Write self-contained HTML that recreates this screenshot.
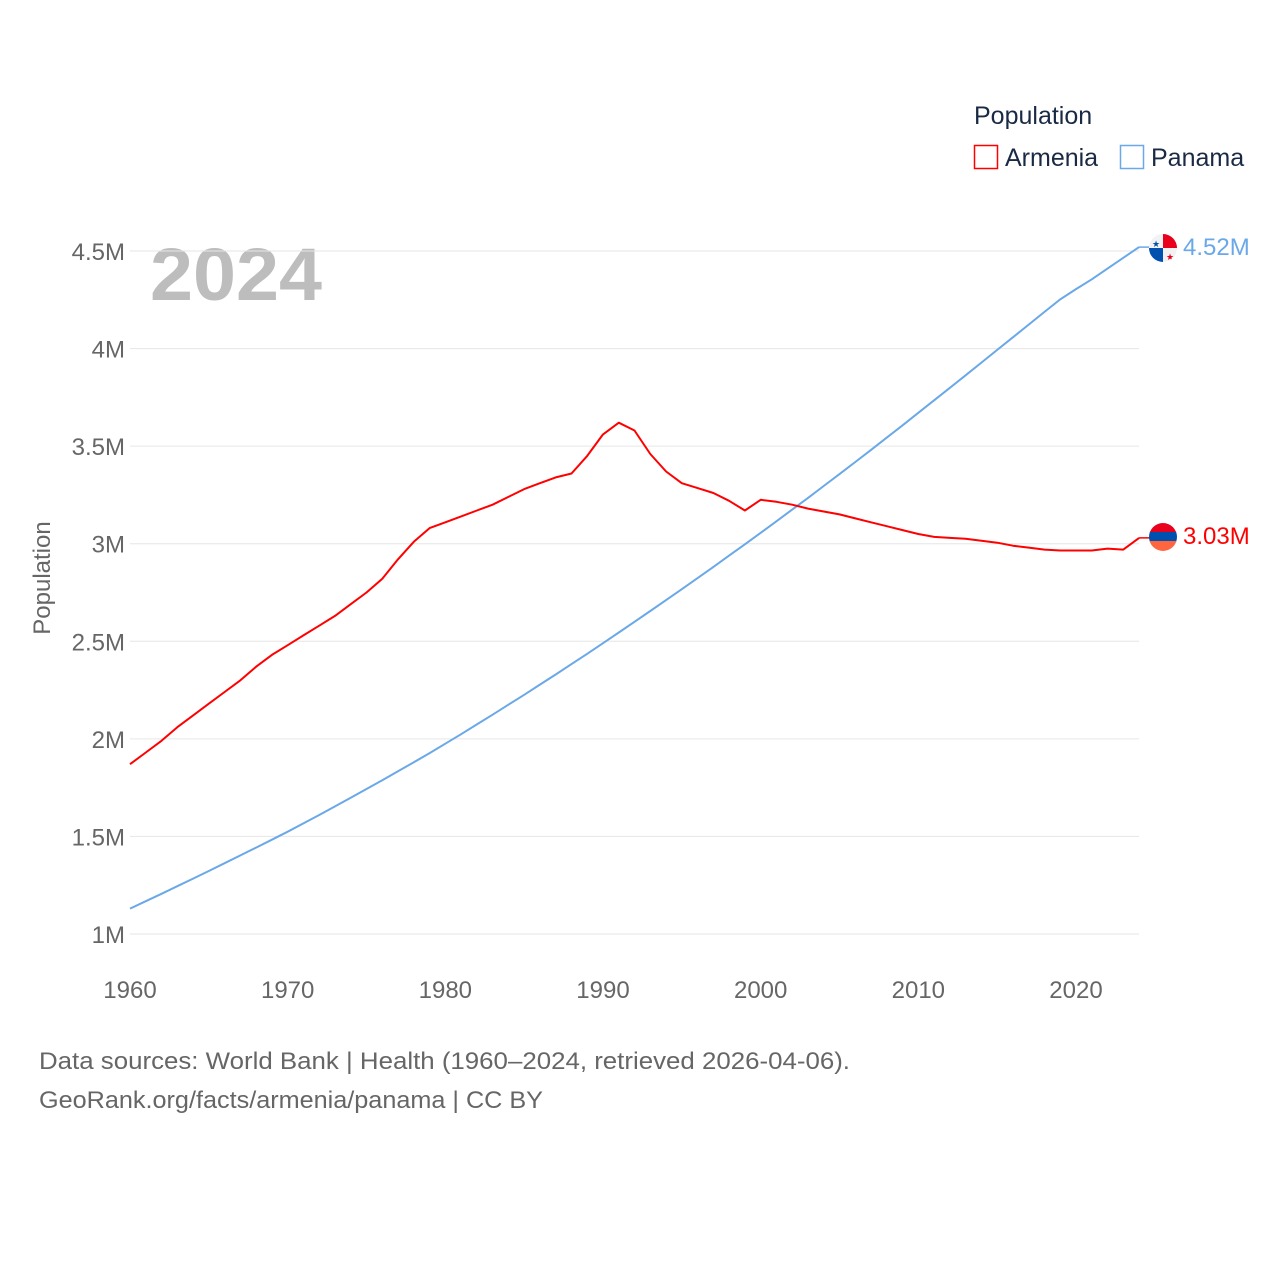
<!DOCTYPE html>
<html><head><meta charset="utf-8"><style>
body{margin:0;background:#fff;font-family:"Liberation Sans",sans-serif;}
svg text{font-family:"Liberation Sans",sans-serif;}
</style></head><body>
<svg id="chart" width="1280" height="1280" xmlns="http://www.w3.org/2000/svg">
<text x="974" y="124" font-size="25" fill="#1a2a44">Population</text>
<g><rect x="974.5" y="145.5" width="23" height="23" fill="none" stroke="#f00" stroke-width="1.5"/><text x="1005" y="166" font-size="25" fill="#1a2a44">Armenia</text></g>
<g><rect x="1120.5" y="145.5" width="23" height="23" fill="none" stroke="#6aa8e8" stroke-width="1.5"/><text x="1151" y="166" font-size="25" fill="#1a2a44">Panama</text></g>
<text x="150" y="300" font-size="74" font-weight="bold" fill="#bdbdbd" textLength="172" lengthAdjust="spacingAndGlyphs">2024</text>
<text transform="translate(50,578) rotate(-90)" text-anchor="middle" font-size="24" fill="#666">Population</text>
<g id="grid"></g><g id="lines"></g>
<text x="39" y="1069" font-size="24" fill="#666" textLength="811" lengthAdjust="spacingAndGlyphs">Data sources: World Bank | Health (1960–2024, retrieved 2026-04-06).</text>
<text x="39" y="1108" font-size="24" fill="#666" textLength="504" lengthAdjust="spacingAndGlyphs">GeoRank.org/facts/armenia/panama | CC BY</text>
<defs><clipPath id="c1"><circle cx="1163" cy="248" r="14"/></clipPath><clipPath id="c2"><circle cx="1163" cy="537" r="14"/></clipPath></defs>
<g clip-path="url(#c1)"><rect x="1149" y="234" width="28" height="28" fill="#f2f2f2"/><rect x="1163" y="234" width="14" height="14" fill="#e8001c"/><rect x="1149" y="248" width="14" height="14" fill="#0050b0"/><text x="1156" y="247" font-size="9" fill="#0050b0" text-anchor="middle">★</text><text x="1170" y="260" font-size="9" fill="#e8001c" text-anchor="middle">★</text></g>
<g clip-path="url(#c2)"><rect x="1149" y="523" width="28" height="10" fill="#e8001c"/><rect x="1149" y="532" width="28" height="10" fill="#0050b0"/><rect x="1149" y="541" width="28" height="10" fill="#ff6640"/></g>
<text x="1183" y="255" font-size="24" fill="#6aa8e8">4.52M</text>
<text x="1183" y="544" font-size="24" fill="#f00">3.03M</text>
</svg>
<script>
const years=[];for(let y=1960;y<=2024;y++)years.push(y);
const armenia=[1.87,1.93,1.99,2.06,2.12,2.18,2.24,2.30,2.37,2.43,2.48,2.53,2.58,2.63,2.69,2.75,2.82,2.92,3.01,3.08,3.11,3.14,3.17,3.20,3.24,3.28,3.31,3.34,3.36,3.45,3.56,3.62,3.58,3.46,3.37,3.31,3.285,3.26,3.22,3.17,3.225,3.215,3.20,3.18,3.165,3.15,3.13,3.11,3.09,3.07,3.05,3.035,3.03,3.025,3.015,3.005,2.99,2.98,2.97,2.965,2.965,2.965,2.975,2.97,3.03];
const panama=[1.130,1.168,1.206,1.245,1.284,1.323,1.363,1.403,1.443,1.483,1.524,1.567,1.610,1.654,1.698,1.743,1.788,1.834,1.880,1.927,1.975,2.024,2.074,2.124,2.175,2.226,2.278,2.330,2.383,2.436,2.490,2.545,2.600,2.655,2.711,2.767,2.824,2.881,2.939,2.997,3.056,3.115,3.175,3.235,3.296,3.357,3.419,3.481,3.544,3.607,3.671,3.735,3.799,3.863,3.928,3.993,4.058,4.123,4.188,4.252,4.305,4.355,4.410,4.465,4.520];
const yTicks=[1,1.5,2,2.5,3,3.5,4,4.5];
const yTickLabels=["1M","1.5M","2M","2.5M","3M","3.5M","4M","4.5M"];
const xTicks=[1960,1970,1980,1990,2000,2010,2020];
const NS="http://www.w3.org/2000/svg";
const xs=y=>130+(y-1960)*(946/60);
const ys=v=>934-(v-1)*195.14;
const grid=document.getElementById('grid'),lines=document.getElementById('lines');
function mk(tag,attrs,parent){const e=document.createElementNS(NS,tag);for(const k in attrs)e.setAttribute(k,attrs[k]);parent.appendChild(e);return e;}
yTicks.forEach((v,i)=>{
 const l=mk('line',{x1:130,x2:1139,y1:ys(v),y2:ys(v),stroke:'#e6e6e6','stroke-width':1},grid);
 
 
 const t=mk('text',{x:125,y:ys(v)+9,'text-anchor':'end','font-size':24,fill:'#666'},grid);
 t.textContent=yTickLabels[i];
 
 
});
xTicks.forEach(y=>{
 const t=mk('text',{x:xs(y),y:998,'text-anchor':'middle','font-size':24,fill:'#666'},grid);
 t.textContent=y;
 
 
});
function series(vals,color,name){
 const d=vals.map((v,i)=>(i?'L':'M')+xs(years[i]).toFixed(1)+','+ys(v).toFixed(1)).join('');
 const p=mk('path',{d:d,fill:'none',stroke:color,'stroke-width':2,'stroke-linejoin':'round'},lines);
 
 
 const last=vals[vals.length-1];
 const c=mk('line',{x1:xs(2024),y1:ys(last),x2:1150,y2:ys(last),stroke:color,'stroke-width':1.5},lines);
 
 
}
series(panama,'#6aa8e8','panama-line');
series(armenia,'#f00','armenia-line');
</script>
</body></html>
